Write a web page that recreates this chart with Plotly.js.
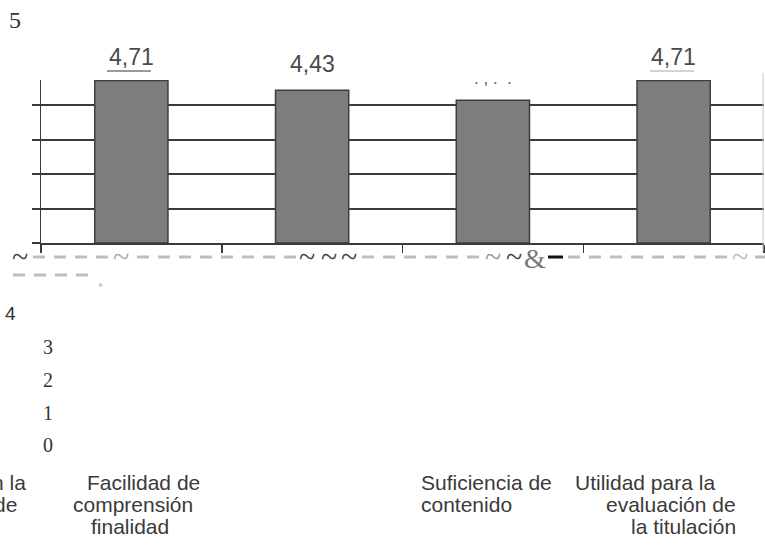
<!DOCTYPE html>
<html>
<head>
<meta charset="utf-8">
<script src="https://cdn.plot.ly/plotly-3.0.1.min.js"></script>
<style>
  html, body { margin: 0; padding: 0; background: #fff; }
  #chart { width: 765px; height: 556px; }
</style>
</head>
<body>
<div id="chart"></div>
<script>
// Average rating per aspect of the study guide (scale 0-5)
const categories = [
  "… en la … de",
  "Facilidad de comprensión finalidad",
  "Suficiencia de contenido",
  "Utilidad para la evaluación de la titulación"
];
const values = [4.71, 4.43, 4.14, 4.71];
const valueLabels = ["4,71", "4,43", ". , .  .", "4,71"];
const gridValues = [0, 1, 2, 3, 4];
const scaleLabels = ["5", "4", "3", "2", "1", "0"];
const labelLines = [
  ["n la", "de"],
  ["Facilidad de", "comprensión", "finalidad"],
  ["Suficiencia de", "contenido"],
  ["Utilidad para la", "evaluación de", "la titulación"]
];

// plot box in page pixels, used to place the free-floating text
const W = 765, H = 556;
const L = 41, R = 764, T = 80, B = 243;
const unitPx = 34.5;
const px = x => (x - L) / (R - L);
const py = y => (B - y) / (B - T);

const sans = "Liberation Sans, Arial, sans-serif";
const serif = "Liberation Serif, Times New Roman, serif";

function txt(text, x, y, size, color, family, xanchor) {
  return {
    text: text, xref: "paper", yref: "paper", x: px(x), y: py(y),
    xanchor: xanchor || "center", yanchor: "middle", showarrow: false,
    font: { family: family || sans, size: size, color: color || "#3a3a3a" }
  };
}

const annotations = [];

// value labels above the bars
const labelShift = [24, 26, 22, 24];
const labelSize = [23, 23, 17, 23];
values.forEach((v, i) => {
  annotations.push({
    text: valueLabels[i], xref: "x", yref: "y", x: categories[i], y: v,
    yanchor: "middle", yshift: labelShift[i], showarrow: false,
    font: { family: sans, size: labelSize[i], color: i === 2 ? "#555555" : "#4a4a4a" }
  });
});

// scale numbers
annotations.push(txt(scaleLabels[0], 15, 20, 24, "#333", serif));
annotations.push(txt(scaleLabels[1], 10, 313, 19, "#333", sans));
[347, 380, 413, 445].forEach((y, k) => {
  annotations.push(txt(scaleLabels[k + 2], 48, y, 20, "#333", serif));
});

// category names
const rowY = [482, 504, 526];
const cs = 21;
annotations.push(txt(labelLines[0][0], 28, rowY[0], cs, "#3a3a3a", sans, "right"));
annotations.push(txt(labelLines[0][1], 19, rowY[1], cs, "#3a3a3a", sans, "right"));
annotations.push(txt(labelLines[1][0], 143, rowY[0], cs));
annotations.push(txt(labelLines[1][1], 133, rowY[1], cs));
annotations.push(txt(labelLines[1][2], 130, rowY[2], cs));
annotations.push(txt(labelLines[2][0], 419, rowY[0], cs, "#3a3a3a", sans, "left"));
annotations.push(txt(labelLines[2][1], 419, rowY[1], cs, "#3a3a3a", sans, "left"));
annotations.push(txt(labelLines[3][0], 573, rowY[0], cs, "#3a3a3a", sans, "left"));
annotations.push(txt(labelLines[3][1], 738, rowY[1], cs, "#3a3a3a", sans, "right"));
annotations.push(txt(labelLines[3][2], 738, rowY[2], cs, "#3a3a3a", sans, "right"));

// marks along the dashed strip under the axis
[[20, "#444"], [121, "#aaa"], [307, "#444"], [329, "#444"], [349, "#444"],
 [493, "#999"], [514, "#444"], [740, "#bbb"]].forEach(([x, c]) => {
  annotations.push(txt("~", x, 256, 30, c, serif));
});
annotations.push(txt("&", 535, 258, 28, "#777", serif));

const shapes = [];
function hline(x0, x1, y, color, width, dash) {
  shapes.push({
    type: "line", xref: "paper", yref: "paper",
    x0: px(x0), x1: px(x1), y0: py(y), y1: py(y),
    line: { color: color, width: width, dash: dash || "solid" }
  });
}
const dashStyle = "12px,9px";
hline(33, 110, 257, "#bdbdbd", 3, dashStyle);
hline(137, 296, 257, "#bdbdbd", 3, dashStyle);
hline(362, 482, 257, "#bdbdbd", 3, dashStyle);
hline(568, 730, 257, "#bdbdbd", 3, dashStyle);
hline(755, 765, 257, "#bdbdbd", 3);
hline(548, 563, 257, "#111", 3);
hline(13, 90, 275, "#bdbdbd", 3, dashStyle);
// underlines under the end labels
hline(107, 151, 71, "#9a9a9a", 2);
hline(650, 694, 71, "#c4c4c4", 1.5);
// faint right frame
shapes.push({
  type: "line", xref: "paper", yref: "paper",
  x0: px(763), x1: px(763), y0: py(73), y1: py(251),
  line: { color: "#c8c8c8", width: 1 }
});
// small dot under the strip
shapes.push({
  type: "circle", xref: "paper", yref: "paper",
  x0: px(98.5), x1: px(102.5), y0: py(283), y1: py(287),
  fillcolor: "#cfcfcf", line: { width: 0 }
});

const trace = {
  type: "bar",
  x: categories,
  y: values,
  width: 0.405,
  marker: { color: "#7d7d7d", line: { color: "#3e3e3e", width: 1.5 } },
  hoverinfo: "skip"
};

const layout = {
  width: W, height: H,
  margin: { l: L, r: W - R, t: T, b: H - B, pad: 0 },
  paper_bgcolor: "#fff", plot_bgcolor: "#fff",
  showlegend: false,
  bargap: 0.6,
  xaxis: {
    type: "category",
    range: [-0.5, 3.5],
    showticklabels: false,
    showgrid: false,
    zeroline: false,
    showline: true, linecolor: "#3a3a3a", linewidth: 2,
    ticks: "outside", tickson: "boundaries", ticklen: 8,
    tickwidth: 1.5, tickcolor: "#3a3a3a"
  },
  yaxis: {
    range: [0, (B - T) / unitPx],
    tickvals: gridValues,
    showticklabels: false,
    showgrid: true, gridcolor: "#3a3a3a", gridwidth: 2,
    zeroline: false,
    showline: true, linecolor: "#3a3a3a", linewidth: 1.5,
    ticks: "outside", ticklen: 8, tickwidth: 2, tickcolor: "#3a3a3a"
  },
  annotations: annotations,
  shapes: shapes
};

Plotly.newPlot("chart", [trace], layout, { staticPlot: true, displayModeBar: false });
</script>
</body>
</html>
